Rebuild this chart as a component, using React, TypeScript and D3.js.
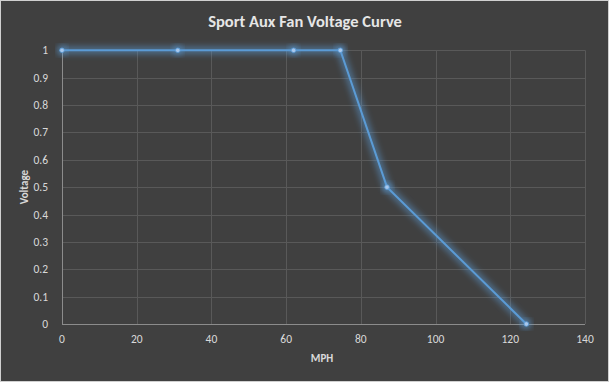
import React from "react";
import * as d3 from "d3";

const mph = [0, 31, 62, 74.5, 87, 124.3];
const voltage = [1, 1, 1, 1, 0.5, 0];
const xTicks = [0, 20, 40, 60, 80, 100, 120, 140];
const yTicks = [0, 0.1, 0.2, 0.3, 0.4, 0.5, 0.6, 0.7, 0.8, 0.9, 1];
const title = "Sport Aux Fan Voltage Curve";
const xTitle = "MPH";
const yTitle = "Voltage";

const W = 609, H = 382;
const font = "Carlito, Calibri, 'Open Sans', 'Noto Sans', sans-serif";

export default function App() {
  const x = d3.scaleLinear().domain([0, 140]).range([62, 585]);
  const y = d3.scaleLinear().domain([0, 1]).range([324, 50.3]);
  const pts = mph.map((m, i) => [m, voltage[i]] as [number, number]);
  const line = d3.line<[number, number]>().x(d => x(d[0])).y(d => y(d[1]));
  const path = line(pts) || "";
  return (
    <svg width={W} height={H} style={{ position: "absolute", left: 0, top: 0 }}>
      <defs>
        <filter id="glow" x="-20%" y="-20%" width="140%" height="140%">
          <feGaussianBlur stdDeviation="3" />
        </filter>
      </defs>
      <rect x={0.5} y={0.5} width={W - 1} height={H - 1} fill="#404040" stroke="#d0d0d0" />
      <text x={305} y={27} textAnchor="middle" fill="#e6e6e6" fontFamily={font} fontWeight="bold" fontSize={16.5}>{title}</text>
      {yTicks.map(t => (
        <g key={"y" + t}>
          <line x1={x(0)} x2={x(140)} y1={Math.round(y(t)) + 0.5} y2={Math.round(y(t)) + 0.5} stroke={t === 0 ? "#8c8c8c" : "#595959"} />
          <text x={48} y={y(t) + 4} textAnchor="end" fill="#d9d9d9" fontFamily={font} fontSize={11.5}>{d3.format("")(t)}</text>
        </g>
      ))}
      {xTicks.map(t => (
        <g key={"x" + t}>
          <line x1={Math.round(x(t)) + 0.5} x2={Math.round(x(t)) + 0.5} y1={y(1)} y2={y(0)} stroke={t === 0 ? "#8c8c8c" : "#595959"} />
          <text x={x(t)} y={343} textAnchor="middle" fill="#d9d9d9" fontFamily={font} fontSize={11.5}>{t}</text>
        </g>
      ))}
      <text x={322} y={362} textAnchor="middle" fill="#d9d9d9" fontFamily={font} fontWeight="bold" fontSize={11}>{xTitle}</text>
      <text transform={`translate(28,${y(0.5)}) rotate(-90)`} textAnchor="middle" fill="#d9d9d9" fontFamily={font} fontWeight="bold" fontSize={11}>{yTitle}</text>
      <path d={path} fill="none" stroke="#5b9bd5" strokeWidth={7} strokeOpacity={0.55} filter="url(#glow)" />
      {pts.map((p, i) => (
        <circle key={"g" + i} cx={x(p[0])} cy={y(p[1])} r={5} fill="#5b9bd5" opacity={0.6} filter="url(#glow)" />
      ))}
      <path d={path} fill="none" stroke="#5b9bd5" strokeWidth={2} />
      {pts.map((p, i) => (
        <circle key={"p" + i} cx={x(p[0])} cy={y(p[1])} r={2.3} fill="#a9c8ec" stroke="#5b9bd5" strokeWidth={0.8} />
      ))}
    </svg>
  );
}
